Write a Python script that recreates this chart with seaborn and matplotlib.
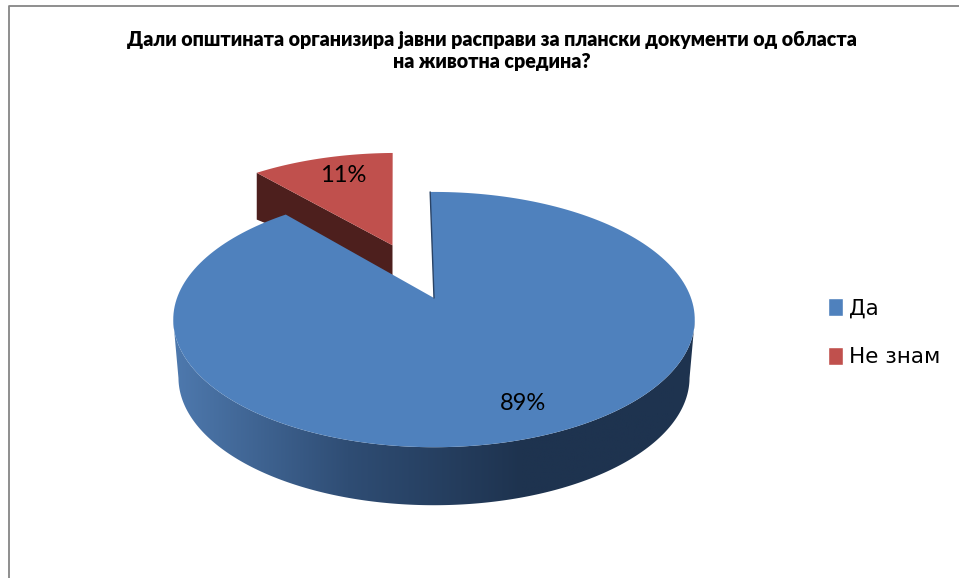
import numpy as np
import pandas as pd
import seaborn as sns
import matplotlib.pyplot as plt
from matplotlib.colors import LinearSegmentedColormap
from matplotlib.patches import Polygon

categories = ["Да", "Не знам"]
values = [89, 11]
pie_colors = ["#4F81BD", "#C0504D"]
title = "Дали општината организира јавни расправи за плански документи од областа\nна животна средина?"

sns.set_theme(style="white")
plt.rcParams['font.family'] = ['Lato', 'Open Sans', 'DejaVu Sans']

df = pd.DataFrame({"odgovor": categories, "procent": values})

# perspective of the pie plane on the picture (pixels)
CX, CY = 434, 298
A, B, K = 257, 124, 0.169


def project(x, y):
    w = 1 + K * y
    return CX + A * x / w, CY - B * y / w


def wedge_outline(wedge, n=200):
    t = np.radians(np.linspace(wedge.theta1, wedge.theta2, n))
    x = np.r_[wedge.center[0], wedge.center[0] + wedge.r * np.cos(t)]
    y = np.r_[wedge.center[1], wedge.center[1] + wedge.r * np.sin(t)]
    return project(x, y)


fig = plt.figure(figsize=(9.59, 5.78), dpi=100)
ax = fig.add_axes([0, 0, 1, 1])

wedges, texts, autotexts = ax.pie(
    df["procent"], explode=[0, 0.49], colors=pie_colors, startangle=91,
    counterclock=False, autopct="%d%%", pctdistance=0.78,
)

ax.set_aspect("auto")
ax.set_xlim(0, 959)
ax.set_ylim(578, 0)
ax.axis("off")

leg = ax.legend(
    wedges, df["odgovor"], loc="upper left", bbox_to_anchor=(809, 279),
    bbox_transform=ax.transData, frameon=False,
    prop={"family": "DejaVu Sans", "size": 15.5},
    handlelength=0.7, handleheight=0.9, handletextpad=0.27, labelspacing=1.3,
    labelcolor="black",
)
for w in wedges:
    w.set_visible(False)

main, other = wedges

# dark side of the exploded slice
ox, oy = wedge_outline(other)
ox = ox - (oy[0] - oy) * 0.02
corner_x = ox[[-1, 0]]
corner_y = oy[[-1, 0]]
side_depth = 30 + (392 - corner_x) * 0.124
side = np.c_[np.r_[corner_x, corner_x[::-1]], np.r_[corner_y, (corner_y + side_depth)[::-1]]]
ax.add_patch(Polygon(side, closed=True, fc="#4D1F1D", ec="none", zorder=2))
ax.fill(ox, oy, color=pie_colors[1], lw=0, zorder=3)

# side wall of the big slice, with the gradient
t = np.radians(np.linspace(150, 390, 500))
fx, fy = project(np.cos(t), np.sin(t))
i0, i1 = fx.argmin(), fx.argmax()
top_x, top_y = fx[i0:i1 + 1], fy[i0:i1 + 1]
bot_x = CX + (top_x - CX) * 0.98
bot_y = top_y + 58
wall = Polygon(np.c_[np.r_[top_x, bot_x[::-1]], np.r_[top_y, bot_y[::-1]]],
               closed=True, fc="none", ec="none", zorder=2, transform=ax.transData)
ax.add_patch(wall)
shade = LinearSegmentedColormap.from_list("wall", ["#4E79AE", "#2F4D74", "#1E334F", "#1E334F"])
im = ax.imshow(np.linspace(0, 1, 256).reshape(1, -1), cmap=shade, aspect="auto",
               extent=(173, 697, 520, 310), zorder=2)
im.set_clip_path(wall)
ax.set_xlim(0, 959)
ax.set_ylim(578, 0)

mx, my = wedge_outline(main)
ax.fill(mx, my, color=pie_colors[0], lw=0, zorder=4)
ax.plot([mx[0], mx[-1]], [my[0], my[-1]], color="#2A4365", lw=1, zorder=5)

# the percent labels sit a little off the projected spot
label_nudge = [(8, 2), (6, 0)]
for at, (nx, ny) in zip(autotexts, label_nudge):
    px, py = project(*at.get_position())
    at.set_position((px + nx, py + ny))
    at.set_fontsize(17)
    at.set_color("black")
    at.set_zorder(6)
    at.set_ha("center")
    at.set_va("center")

ax.text(492, 50.5, title, ha="center", va="center", fontsize=14.1, fontweight="heavy",
        color="black", linespacing=1.15)

# frame of the original chart
ax.plot([8.5, 8.5, 959], [578, 5.5, 5.5], color="#868686", lw=1.3, zorder=1, clip_on=False)

fig.savefig("out.png", dpi=100)
